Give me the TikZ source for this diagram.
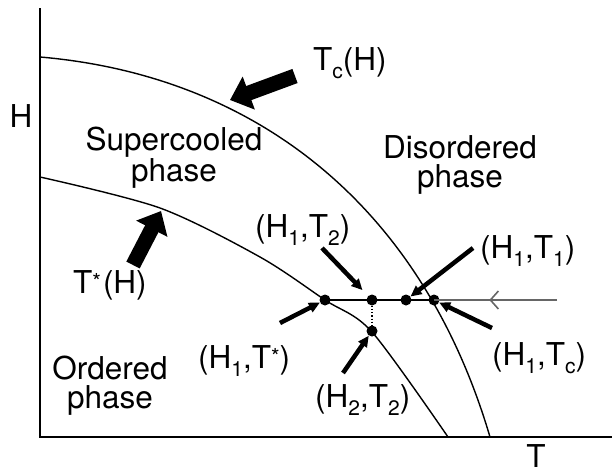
\documentclass[tikz,border=0pt]{standalone}
\usepackage{fontspec}
\setmainfont{TeX Gyre Heros}
\usetikzlibrary{arrows.meta,decorations.markings}
\newcommand{\lowidx}[1]{\raisebox{-0.28em}{\fontsize{21}{21}\selectfont#1}}
\newcommand{\highidx}[1]{\raisebox{0.1em}{\fontsize{22}{22}\selectfont#1}}

\begin{document}
\begin{tikzpicture}[
  x=1pt, y=-1pt,
  every node/.style={font=\fontsize{31.5}{29}\selectfont},
  phase/.style={align=center, inner sep=0pt},
  lbl/.style={anchor=base west, inner sep=0pt},
  axis/.style={line width=1.8pt},
  curve/.style={line width=1.4pt},
  dot/.style={circle, fill, inner sep=0pt, minimum size=11pt},
  fat/.style={line width=15pt, -{Triangle[length=20pt,width=34pt]}},
  pin/.style={line width=4.5pt, -{Triangle[length=11pt,width=10pt]}},
  path/.style={line width=2pt},
  incoming/.style={line width=2.4pt, draw=black!60,
    postaction={decorate, decoration={markings,
      mark=at position 0.55 with {\arrow[black!60, line width=1.6pt]{Straight Barb[length=8pt,width=18pt]}}}}}
]
\useasboundingbox (0,0) rectangle (616,474);

\coordinate (top)    at (40,8);
\coordinate (origin) at (40,437);
\coordinate (right)  at (612,437);
\draw[axis] (top) -- (origin) -- (right);
\node[inner sep=0pt] (hAxis) at (21,116) {H};
\node[inner sep=0pt] (tAxis) at (536,456) {T};

\draw[curve] (40,57) .. controls (250,75) and (420,200) .. (490,437);
\draw[curve] plot[smooth] coordinates {(40,177) (160,208) (260,257) (325,300) (372,332) (448,437)};

\node[phase] (super) at (174,158) {Supercooled\\phase};
\node[phase] (disord) at (460,165) {Disordered\\phase};
\node[phase] (order) at (110,386) {Ordered\\phase};

\node[dot] (pStar) at (325,300) {};
\node[dot] (pTwo)  at (372,300) {};
\node[dot] (pOne)  at (406,300) {};
\node[dot] (pC)    at (434,300) {};
\node[dot] (pLow)  at (372,331) {};
\coordinate (lineEnd) at (557,300);

\draw[incoming] (lineEnd) -- (pC.center);
\draw[path] (pC.center) -- (pStar.center);
\draw[dotted, line width=1.2pt] (pTwo) -- (pLow);

\node[lbl] (tcLbl)   at (313,70)  {T\lowidx{c}(H)};
\node[lbl] (tsLbl)   at (73,293)  {T\highidx{*}\kern2pt(H)};
\node[lbl] (t2Lbl)   at (255,237) {(H\lowidx{1},T\lowidx{2})};
\node[lbl] (t1Lbl)   at (480,258) {(H\lowidx{1},T\lowidx{1})};
\node[lbl] (tcpLbl)  at (492,365) {(H\lowidx{1},T\lowidx{c})};
\node[lbl] (tspLbl)  at (198,368) {(H\lowidx{1},T\highidx{*})};
\node[lbl] (h2Lbl)   at (315,407) {(H\lowidx{2},T\lowidx{2})};

\coordinate (tcTail) at (295,76);
\coordinate (tcTip)  at (230,100);
\coordinate (tsTail) at (133,265);
\coordinate (tsTip)  at (161,211);
\draw[fat] (tcTail) -- (tcTip);
\draw[fat] (tsTail) -- (tsTip);

\coordinate (t2Tail)  at (322,248);
\coordinate (t1Tail)  at (473,248);
\coordinate (tcpTail) at (492,328);
\coordinate (tspTail) at (280,323);
\coordinate (h2Tail)  at (343,373);
\draw[pin, shorten >=8pt] (t2Tail) -- (pTwo);
\draw[pin] (t1Tail) -- (pOne);
\draw[pin] (tcpTail) -- (pC);
\draw[pin] (tspTail) -- (pStar);
\draw[pin] (h2Tail) -- (pLow);
\end{tikzpicture}
\end{document}
